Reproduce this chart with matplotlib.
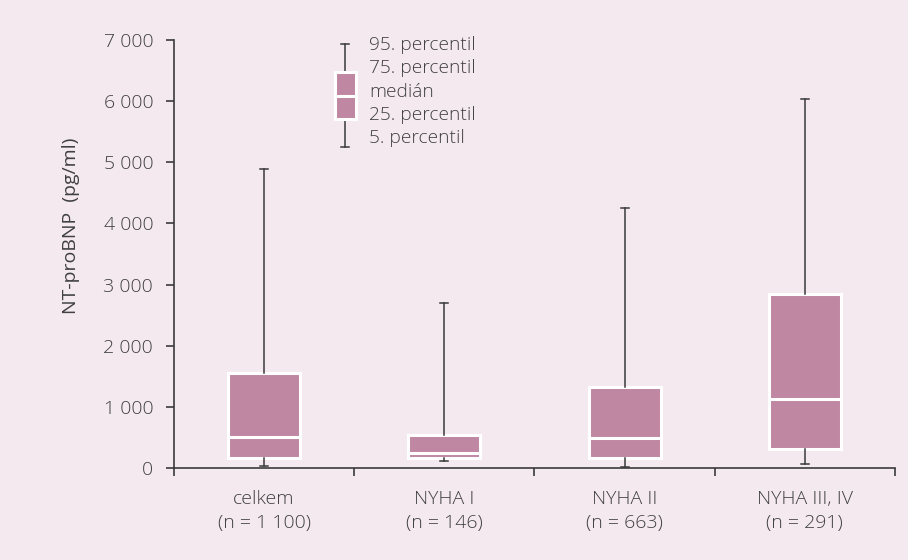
import matplotlib
matplotlib.use("Agg")
import matplotlib.pyplot as plt
from matplotlib.patches import Rectangle
from matplotlib.ticker import FixedLocator, FuncFormatter

# percentiles (pg/ml)
groups = ["celkem", "NYHA I", "NYHA II", "NYHA III, IV"]
counts = ["1 100", "146", "663", "291"]
p5 = [30, 120, 20, 65]
p25 = [165, 170, 170, 305]
median = [505, 245, 495, 1125]
p75 = [1555, 545, 1330, 2845]
p95 = [4890, 2700, 4250, 6040]

legend_labels = ["95. percentil", "75. percentil", "medián", "25. percentil", "5. percentil"]

BG = "#f4e9ee"
BOX = "#c087a2"
DARK = "#3a3a3a"
TXT = "#404040"
FS = 14

plt.rcParams["font.family"] = ["Open Sans", "DejaVu Sans"]
plt.rcParams["font.weight"] = "light"

fig = plt.figure(figsize=(9.08, 5.6), dpi=100, facecolor=BG)
ax = fig.add_axes([0.1916, 0.1643, 0.794, 0.7643], facecolor=BG)

stats = []
for i, g in enumerate(groups):
    stats.append(dict(label=g, whislo=p5[i], q1=p25[i], med=median[i],
                      q3=p75[i], whishi=p95[i], fliers=[]))

positions = list(range(len(groups)))
ax.bxp(stats, positions=positions, widths=0.4, patch_artist=True,
       showfliers=False,
       boxprops=dict(facecolor=BOX, edgecolor="white", linewidth=2.2),
       medianprops=dict(color="white", linewidth=2.2),
       whiskerprops=dict(color=DARK, linewidth=1.1),
       capprops=dict(color=DARK, linewidth=1.1),
       capwidths=0.045, zorder=3)

ax.set_xlim(-0.5, len(groups) - 0.5)
ax.set_ylim(0, 7000)

ax.yaxis.set_major_locator(FixedLocator(range(0, 7001, 1000)))
ax.yaxis.set_major_formatter(FuncFormatter(lambda v, p: f"{int(v):,}".replace(",", " ")))
ax.tick_params(axis="y", direction="out", length=6, width=1.2, color=DARK,
               labelsize=FS, labelcolor=TXT, pad=9)

ax.set_xticks(positions)
ax.set_xticklabels([f"{g}\n(n = {n})" for g, n in zip(groups, counts)], linespacing=1.4)
ax.xaxis.set_minor_locator(FixedLocator([p - 0.5 for p in range(len(groups) + 1)]))
ax.tick_params(axis="x", which="major", length=0, labelsize=FS, labelcolor=TXT, pad=16)
ax.tick_params(axis="x", which="minor", direction="out", length=6, width=1.2, color=DARK)

for s in ["top", "right"]:
    ax.spines[s].set_visible(False)
for s in ["left", "bottom"]:
    ax.spines[s].set_color(DARK)
    ax.spines[s].set_linewidth(1.2)

ax.set_ylabel("NT-proBNP  (pg/ml)", fontsize=FS, color=TXT)
ax.yaxis.set_label_coords(-0.130, 0.565)

# legend glyph drawn in pixel coordinates
H = 560
def fy(py):
    return 1 - py / H
def fx(px):
    return px / 908

lx = 345
fig.add_artist(plt.Line2D([fx(lx), fx(lx)], [fy(44), fy(147)], color=DARK, lw=1.1, zorder=1))
fig.add_artist(plt.Line2D([fx(lx - 4), fx(lx + 4)], [fy(44), fy(44)], color=DARK, lw=1.1))
fig.add_artist(plt.Line2D([fx(lx - 4), fx(lx + 4)], [fy(147), fy(147)], color=DARK, lw=1.1))
fig.add_artist(Rectangle((fx(lx - 10.5), fy(118.5)), fx(21), (118.5 - 72.5) / H,
                         facecolor=BOX, edgecolor="white", lw=2.2, zorder=2))
fig.add_artist(plt.Line2D([fx(lx - 10.5), fx(lx + 10.5)], [fy(96), fy(96)],
                          color="white", lw=2.2, zorder=3))

for k, lab in enumerate(legend_labels):
    fig.text(fx(369), fy(45 + k * 23.3), lab, fontsize=13.8, color=TXT,
             ha="left", va="center")

fig.savefig("out.png", dpi=100, facecolor=BG)
